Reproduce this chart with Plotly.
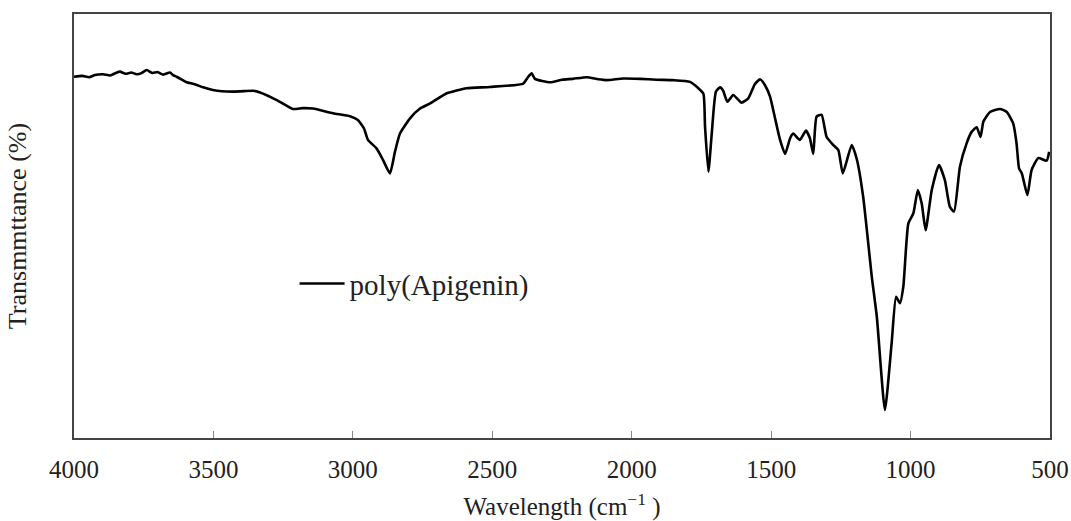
import plotly.graph_objects as go

wavenumber = [4000, 3970, 3945, 3925, 3896, 3870, 3850, 3835, 3815, 3795, 3775, 3760, 3739, 3720, 3700,
              3680, 3656, 3645, 3632, 3615, 3596, 3570, 3537, 3502, 3470, 3430, 3390, 3358, 3333,
              3273, 3215, 3180, 3143, 3071, 3010, 2982, 2960, 2946, 2915, 2892, 2867, 2849, 2831,
              2795, 2759, 2723, 2663, 2592, 2508, 2389, 2371, 2359, 2347, 2293, 2250, 2211, 2161,
              2120, 2090, 2030, 1970, 1910, 1851, 1791, 1761, 1743, 1737, 1725, 1713, 1698, 1683,
              1672, 1657, 1636, 1606, 1582, 1558, 1540, 1522, 1504, 1486, 1468, 1450, 1432, 1421,
              1397, 1375, 1361, 1349, 1337, 1319, 1301, 1277, 1259, 1243, 1211, 1193, 1170, 1139,
              1121, 1092, 1068, 1052, 1038, 1026, 1008, 990, 974, 960, 946, 924, 898, 877, 859,
              844, 823, 799, 781, 763, 749, 739, 715, 679, 655, 632, 620, 611, 601, 581, 566,
              542, 512, 503]
transmittance = [85.2, 85.4, 85.1, 85.6, 85.8, 85.5, 86.1, 86.4, 85.9, 86.2, 85.8, 86.0, 86.8, 86.1, 86.3,
                 85.7, 86.2, 85.6, 85.2, 84.6, 83.9, 83.5, 82.7, 82.1, 81.8, 81.7, 81.8, 81.9, 81.5,
                 79.7, 77.6, 77.8, 77.7, 76.6, 75.9, 75.0, 73.0, 70.3, 68.3, 65.6, 62.4, 67.5, 71.8,
                 75.4, 77.7, 78.9, 81.3, 82.5, 82.8, 83.6, 85.2, 86.0, 84.7, 83.9, 84.5, 84.7, 85.1,
                 84.6, 84.4, 84.8, 84.7, 84.5, 84.4, 84.0, 82.5, 81.2, 73.4, 62.8, 71.8, 81.7, 82.7,
                 81.9, 79.3, 80.9, 79.1, 80.1, 83.5, 84.6, 83.2, 80.5, 75.4, 70.3, 67.0, 70.7, 71.8,
                 70.3, 72.5, 70.7, 67.0, 75.8, 76.2, 71.0, 69.1, 67.9, 62.4, 69.1, 65.8, 56.9, 38.0,
                 28.6, 6.6, 22.3, 33.3, 31.8, 35.7, 50.6, 53.0, 58.5, 55.3, 49.0, 58.5, 64.4, 60.8, 54.5,
                 53.4, 64.0, 69.5, 72.2, 73.3, 71.0, 74.6, 76.9, 77.6, 76.9, 74.2, 69.5, 63.6, 62.4, 57.3, 63.2,
                 66.0, 65.4, 67.5]

x_ticks = [4000, 3500, 3000, 2500, 2000, 1500, 1000, 500]
series_name = "poly(Apigenin)"

serif = "Liberation Serif"
txt_color = "#222222"

fig = go.Figure()
fig.add_trace(go.Scatter(
    x=wavenumber, y=transmittance, mode="lines", name=series_name,
    line=dict(color="black", width=2.6, shape="spline", smoothing=0.5),
))

fig.update_layout(
    width=1071, height=521,
    margin=dict(l=74, r=21, t=14, b=83),
    plot_bgcolor="white", paper_bgcolor="white",
    font=dict(family=serif, size=25, color=txt_color),
    showlegend=True,
    legend=dict(x=0.226, y=0.364, xanchor="left", yanchor="middle",
                bgcolor="rgba(0,0,0,0)", font=dict(family=serif, size=29, color=txt_color),
                itemwidth=45),
    xaxis=dict(
        range=[4000, 500], tickvals=x_ticks, ticktext=[str(v) for v in x_ticks],
        ticks="inside", ticklen=7, tickwidth=1.2, tickcolor="#888888",
        showline=True, linecolor="#444444", linewidth=1.5, mirror=True,
        showgrid=False, zeroline=False, automargin=False,
        ticklabelstandoff=8,
        tickfont=dict(family=serif, size=25, color=txt_color),
        title=dict(text="Wavelength (cm<sup>−1</sup> )", standoff=24,
                   font=dict(family=serif, size=25, color=txt_color)),
    ),
    yaxis=dict(
        range=[0, 100], showticklabels=False, ticks="",
        showline=True, linecolor="#444444", linewidth=1.5, mirror=True,
        showgrid=False, zeroline=False, automargin=False,
        title=dict(text="Transmmttance (%)", standoff=38,
                   font=dict(family=serif, size=26, color=txt_color)),
    ),
)

fig.write_html("out.html")
